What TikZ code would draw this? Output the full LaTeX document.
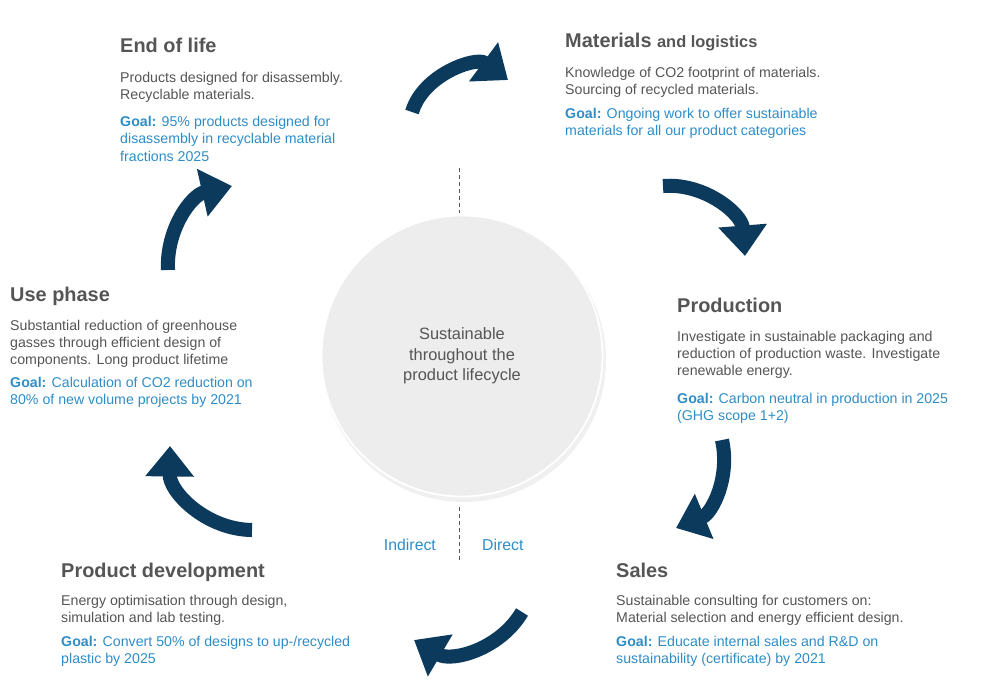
\documentclass[tikz,border=0pt]{standalone}
\usepackage{fontspec}
\setmainfont{Liberation Sans}
\usetikzlibrary{arrows.meta}
\definecolor{navy}{HTML}{0B3A5C}
\definecolor{titlegray}{HTML}{555555}
\definecolor{bodygray}{HTML}{555555}
\definecolor{goalblue}{HTML}{2E8DC8}
\definecolor{circlefill}{HTML}{EDEDED}
\tikzset{
  ttl/.style={anchor=north west,inner sep=0pt,text=titlegray,font=\fontsize{17}{18}\selectfont\bfseries},
  body/.style={anchor=north west,inner sep=0pt,align=left,text=bodygray,font=\fontsize{12.1}{14.5}\selectfont},
  goal/.style={anchor=north west,inner sep=0pt,align=left,text=goalblue,font=\fontsize{12.1}{14.8}\selectfont},
  cyclearrow/.style={draw=navy,line width=12pt,-{Triangle[length=26pt,width=40pt]}},
}
\newcommand{\goalword}{\textbf{Goal:} }
\begin{document}
\begin{tikzpicture}[x=0.03cm,y=-0.03cm]
\useasboundingbox (0,0) rectangle (981,690);
%Centre circle
\fill[black!6] (464,360) circle (142);
\node[circle,fill=circlefill,draw=white,line width=1.5pt,minimum size=281*0.03cm,inner sep=0pt,
  align=center,text=bodygray,font=\fontsize{14}{17.5}\selectfont] (hub) at (462,356)
  {Sustainable\\throughout the\\product lifecycle};
%Dashed split
\coordinate (dtop1) at (459,168);
\coordinate (dtop2) at (459,213);
\coordinate (dbot1) at (459,507);
\coordinate (dbot2) at (459,563);
\draw[dashed,titlegray] (dtop1) -- (dtop2);
\draw[dashed,titlegray] (dbot1) -- (dbot2);
\node[anchor=east,text=goalblue,font=\fontsize{13.5}{15}\selectfont] (indirect) at (440,545) {Indirect};
\node[anchor=west,text=goalblue,font=\fontsize{13.5}{15}\selectfont] (direct) at (478,545) {Direct};
%Cycle arrows
\coordinate (a1s) at (412,112); \coordinate (a1e) at (508,80);
\coordinate (a2s) at (663,186); \coordinate (a2e) at (745,256);
\coordinate (a3s) at (722,440); \coordinate (a3e) at (676,528);
\coordinate (a4s) at (522,612); \coordinate (a4e) at (414,640);
\coordinate (a5s) at (252,530); \coordinate (a5e) at (170,446);
\coordinate (a6s) at (168,270); \coordinate (a6e) at (232,186);
\draw[cyclearrow] (a1s) to[bend left=55] (a1e);
\draw[cyclearrow] (a2s) to[bend left=45] (a2e);
\draw[cyclearrow] (a3s) to[bend left=40] (a3e);
\draw[cyclearrow] (a4s) to[bend left=45] (a4e);
\draw[cyclearrow] (a5s) to[bend left=45] (a5e);
\draw[cyclearrow] (a6s) to[bend left=40] (a6e);
%End of life
\node[ttl] (eoltitle) at (120,38) {End of life};
\node[body] (eolbody) at (120,72) {Products designed for disassembly.\\Recyclable materials.};
\node[goal] (eolgoal) at (120,116) {\goalword 95\% products designed for\\disassembly in recyclable material\\fractions 2025};
%Materials and logistics
\node[ttl] (mattitle) at (565,33) {Materials {\fontsize{14}{16}\selectfont and logistics}};
\node[body] (matbody) at (565,67) {Knowledge of CO2 footprint of materials.\\Sourcing of recycled materials.};
\node[goal] (matgoal) at (565,108) {\goalword Ongoing work to offer sustainable\\materials for all our product categories};
%Production
\node[ttl] (prodtitle) at (677,298) {Production};
\node[body] (prodbody) at (677,331) {Investigate in sustainable packaging and\\reduction of production waste. Investigate\\renewable energy.};
\node[goal] (prodgoal) at (677,393) {\goalword Carbon neutral in production in 2025\\(GHG scope 1+2)};
%Sales
\node[ttl] (salestitle) at (616,563) {Sales};
\node[body] (salesbody) at (616,595) {Sustainable consulting for customers on:\\Material selection and energy efficient design.};
\node[goal] (salesgoal) at (616,636) {\goalword Educate internal sales and R\&D on\\sustainability (certificate) by 2021};
%Product development
\node[ttl] (devtitle) at (61,563) {Product development};
\node[body] (devbody) at (61,595) {Energy optimisation through design,\\simulation and lab testing.};
\node[goal] (devgoal) at (61,636) {\goalword Convert 50\% of designs to up-/recycled\\plastic by 2025};
%Use phase
\node[ttl] (usetitle) at (10,287) {Use phase};
\node[body] (usebody) at (10,320) {Substantial reduction of greenhouse\\gasses through efficient design of\\components. Long product lifetime};
\node[goal] (usegoal) at (10,377) {\goalword Calculation of CO2 reduction on\\80\% of new volume projects by 2021};
\end{tikzpicture}
\end{document}
